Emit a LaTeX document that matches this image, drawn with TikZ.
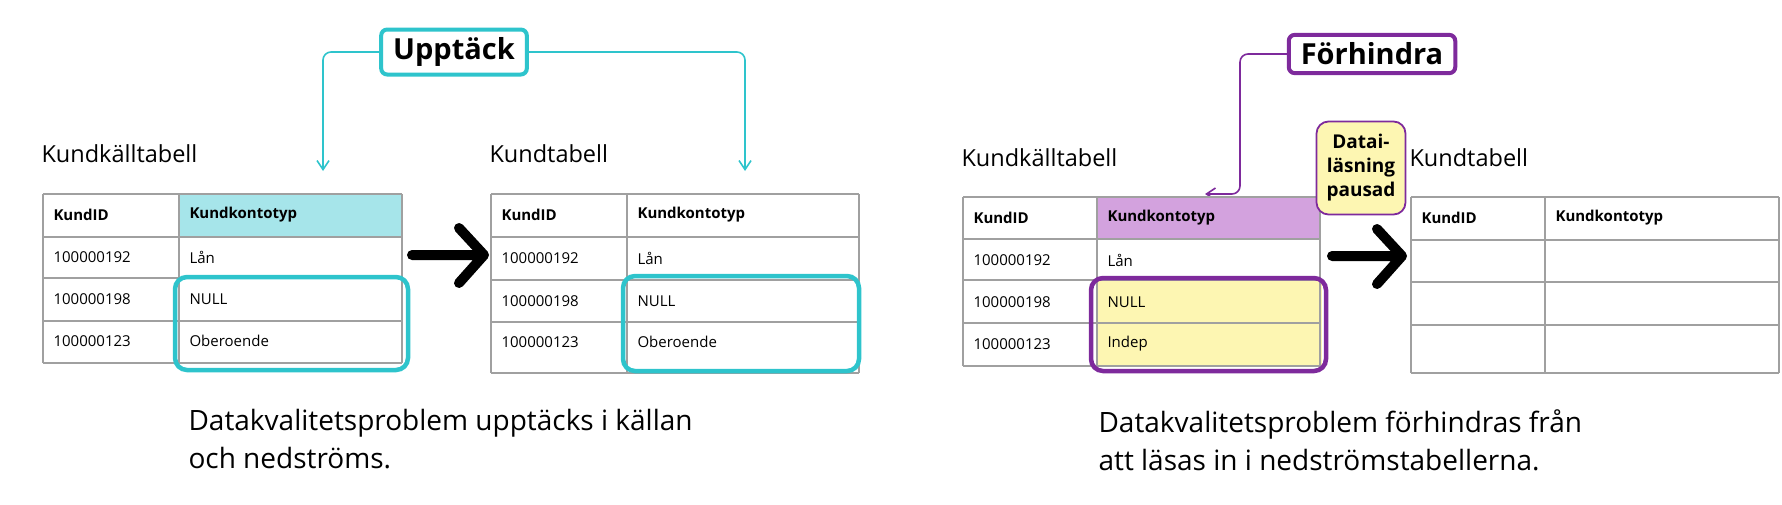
\documentclass[tikz,border=0pt]{standalone}
\usepackage{fontspec}
\setmainfont{Open Sans}
\usetikzlibrary{arrows.meta}
\definecolor{teal1}{HTML}{2EC4CC}
\definecolor{tealfill}{HTML}{A6E5EA}
\definecolor{purp}{HTML}{7E2A9C}
\definecolor{purpfill}{HTML}{D3A2DE}
\definecolor{yel}{HTML}{FDF6B2}
\definecolor{grid}{HTML}{A0A0A0}
\begin{document}
\begin{tikzpicture}[x=1pt,y=-1pt,
  cell/.style={draw=grid,line width=1.3pt},
  ctext/.style={anchor=west,font=\fontsize{15}{17}\selectfont},
  htext/.style={anchor=west,font=\fontsize{15}{17}\selectfont\bfseries},
  title/.style={anchor=west,font=\fontsize{23.5}{26}\selectfont},
  captxt/.style={anchor=north west,align=left,font=\fontsize{28}{38}\selectfont},
  tag/.style={draw,rounded corners=6pt,line width=4pt,fill=white,inner xsep=12pt,inner ysep=8pt,font=\fontsize{29}{32}\selectfont\bfseries},
  hl/.style={rounded corners=12pt,line width=4.5pt},
  bigarrow/.style={line width=10pt,line cap=round,line join=round},
  conn/.style={line width=1.6pt,rounded corners=8pt}]
\useasboundingbox (0,0) rectangle (1782,504);
% ===== LEFT =====
\node[tag,draw=teal1] (up) at (454,52) {Upptäck};
\coordinate (ua) at (323,171);
\coordinate (ub) at (745,171);
\draw[conn,teal1,-{Straight Barb[length=9pt,width=12pt]}] (up.west) -| (ua);
\draw[conn,teal1,-{Straight Barb[length=9pt,width=12pt]}] (up.east) -| (ub);
\node[title] (t1) at (38,154) {Kundkälltabell};
\fill[tealfill] (179,194) rectangle (402,237);
\foreach \y in {194,237,278,321,363} \draw[cell] (43,\y) -- (402,\y);
\foreach \x in {43,179,402} \draw[cell] (\x,194) -- (\x,363);
\node[htext] (a1) at (50,215) {KundID};
\node[htext] (a2) at (186,215) {Kundkontotyp};
\node[ctext] (a3) at (50,257) {100000192};
\node[ctext] (a4) at (186,257) {Lån};
\node[ctext] (a5) at (50,299) {100000198};
\node[ctext] (a6) at (186,299) {NULL};
\node[ctext] (a7) at (50,341) {100000123};
\node[ctext] (a8) at (186,341) {Oberoende};
\draw[hl,teal1] (175,277) rectangle (408,370);
\draw[bigarrow] (412,255) -- (481,255) (459,228) -- (484,255) -- (459,283);
\node[title] (t2) at (486,154) {Kundtabell};
\foreach \y in {194,237,280,322,373} \draw[cell] (491,\y) -- (859,\y);
\foreach \x in {491,627,859} \draw[cell] (\x,194) -- (\x,373);
\node[htext] (b1) at (498,215) {KundID};
\node[htext] (b2) at (634,215) {Kundkontotyp};
\node[ctext] (b3) at (498,258) {100000192};
\node[ctext] (b4) at (634,258) {Lån};
\node[ctext] (b5) at (498,301) {100000198};
\node[ctext] (b6) at (634,301) {NULL};
\node[ctext] (b7) at (498,342) {100000123};
\node[ctext] (b8) at (634,342) {Oberoende};
\draw[hl,teal1] (623,276) rectangle (859,371);
\node[captxt] (c1) at (185,406) {Datakvalitetsproblem upptäcks i källan\\och nedströms.};
% ===== RIGHT =====
\node[tag,draw=purp] (fh) at (1372,54) {Förhindra};
\coordinate (fa) at (1205,194);
\draw[conn,purp,-{Straight Barb[length=9pt,width=12pt]}] (fh.west) -- (1240,54) -- (1240,194) -- (fa);
\node[title] (t3) at (958,158) {Kundkälltabell};
\fill[purpfill] (1097,197) rectangle (1320,239);
\fill[yel] (1097,280) rectangle (1322,366);
\foreach \y in {197,239,280,323,366} \draw[cell] (963,\y) -- (1320,\y);
\foreach \x in {963,1097,1320} \draw[cell] (\x,197) -- (\x,366);
\node[htext] (d1) at (970,218) {KundID};
\node[htext] (d2) at (1104,218) {Kundkontotyp};
\node[ctext] (d3) at (970,260) {100000192};
\node[ctext] (d4) at (1104,260) {Lån};
\node[ctext] (d5) at (970,302) {100000198};
\node[ctext] (d6) at (1104,302) {NULL};
\node[ctext] (d7) at (970,344) {100000123};
\node[ctext] (d8) at (1104,344) {Indep};
\draw[hl,purp] (1091,278) rectangle (1326,371);
\draw[bigarrow] (1332,256) -- (1398,256) (1377,229) -- (1402,256) -- (1377,284);
\node[draw=purp,line width=1.8pt,fill=yel,rounded corners=12pt,minimum width=89pt,minimum height=93pt,inner sep=3pt,align=center,
  font=\fontsize{19}{24}\selectfont\bfseries] (dp) at (1361,168) {Datai-\\läsning\\pausad};
\node[title] (t4) at (1406,158) {Kundtabell};
\foreach \y in {197,240,282,325,373} \draw[cell] (1411,\y) -- (1779,\y);
\foreach \x in {1411,1545,1779} \draw[cell] (\x,197) -- (\x,373);
\node[htext] (e1) at (1418,218) {KundID};
\node[htext] (e2) at (1552,218) {Kundkontotyp};
\node[captxt] (c2) at (1095,406) {Datakvalitetsproblem förhindras från\\att läsas in i nedströmstabellerna.};
\end{tikzpicture}
\end{document}
